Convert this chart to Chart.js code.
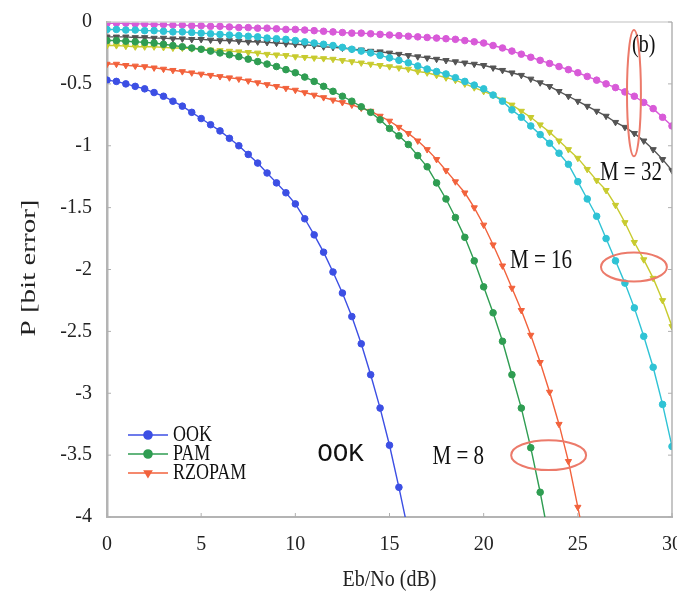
<!DOCTYPE html>
<html><head><meta charset="utf-8">
<script src="https://cdn.jsdelivr.net/npm/chart.js@4.4.1/dist/chart.umd.min.js"></script>
<style>html,body{margin:0;padding:0;background:#fff;}canvas{display:block;}</style>
</head><body>
<canvas id="c" width="677" height="601"></canvas>
<script>
// ---- data (Eb/No in dB, log10 of bit-error probability) ----
const ebNo = [0,0.5,1,1.5,2,2.5,3,3.5,4,4.5,5,5.5,6,6.5,7,7.5,8,8.5,9,9.5,10,10.5,11,11.5,12,12.5,13,13.5,14,14.5,15,15.5,16,16.5,17,17.5,18,18.5,19,19.5,20,20.5,21,21.5,22,22.5,23,23.5,24,24.5,25,25.5,26,26.5,27,27.5,28,28.5,29,29.5,30];
const ookBER = [-0.47,-0.48,-0.50,-0.52,-0.54,-0.57,-0.60,-0.64,-0.68,-0.73,-0.78,-0.83,-0.88,-0.94,-1.00,-1.07,-1.14,-1.22,-1.30,-1.38,-1.47,-1.59,-1.72,-1.86,-2.02,-2.19,-2.38,-2.60,-2.85,-3.12,-3.42,-3.76,-4.12];
const pam8BER = [-0.15,-0.15,-0.155,-0.16,-0.165,-0.17,-0.18,-0.19,-0.20,-0.21,-0.22,-0.235,-0.25,-0.265,-0.28,-0.30,-0.32,-0.34,-0.36,-0.385,-0.41,-0.445,-0.48,-0.52,-0.56,-0.60,-0.64,-0.685,-0.73,-0.79,-0.86,-0.92,-0.99,-1.08,-1.17,-1.30,-1.43,-1.58,-1.74,-1.93,-2.14,-2.35,-2.58,-2.85,-3.12,-3.44,-3.80,-4.2];
const rzopam8BER = [-0.34,-0.34,-0.35,-0.355,-0.36,-0.37,-0.38,-0.39,-0.40,-0.41,-0.42,-0.43,-0.44,-0.45,-0.46,-0.475,-0.49,-0.505,-0.52,-0.535,-0.55,-0.57,-0.59,-0.61,-0.63,-0.65,-0.67,-0.695,-0.72,-0.76,-0.80,-0.85,-0.90,-0.96,-1.03,-1.11,-1.20,-1.29,-1.38,-1.50,-1.64,-1.80,-1.97,-2.15,-2.33,-2.53,-2.75,-2.99,-3.25,-3.55,-3.92,-4.3];
const pam16BER = [-0.06,-0.06,-0.065,-0.065,-0.07,-0.07,-0.075,-0.08,-0.08,-0.085,-0.09,-0.095,-0.10,-0.105,-0.11,-0.115,-0.12,-0.13,-0.135,-0.14,-0.15,-0.16,-0.17,-0.18,-0.19,-0.205,-0.22,-0.235,-0.25,-0.27,-0.29,-0.31,-0.33,-0.355,-0.38,-0.40,-0.42,-0.45,-0.48,-0.51,-0.54,-0.59,-0.64,-0.71,-0.77,-0.84,-0.91,-0.98,-1.06,-1.15,-1.29,-1.43,-1.57,-1.75,-1.93,-2.11,-2.31,-2.54,-2.79,-3.09,-3.43];
const rzopam16BER = [-0.19,-0.19,-0.195,-0.20,-0.20,-0.20,-0.205,-0.21,-0.21,-0.215,-0.22,-0.225,-0.23,-0.235,-0.24,-0.245,-0.25,-0.26,-0.265,-0.27,-0.28,-0.285,-0.29,-0.295,-0.30,-0.31,-0.32,-0.33,-0.34,-0.35,-0.36,-0.37,-0.38,-0.40,-0.41,-0.43,-0.45,-0.47,-0.50,-0.53,-0.56,-0.59,-0.63,-0.67,-0.72,-0.77,-0.83,-0.89,-0.96,-1.03,-1.10,-1.19,-1.28,-1.36,-1.48,-1.62,-1.78,-1.92,-2.07,-2.25,-2.46];
const pam32BER = [-0.01,-0.01,-0.01,-0.015,-0.015,-0.02,-0.02,-0.025,-0.025,-0.03,-0.03,-0.035,-0.035,-0.04,-0.045,-0.045,-0.05,-0.05,-0.055,-0.06,-0.06,-0.065,-0.07,-0.075,-0.08,-0.085,-0.09,-0.09,-0.095,-0.10,-0.105,-0.11,-0.115,-0.12,-0.125,-0.13,-0.135,-0.14,-0.15,-0.16,-0.17,-0.19,-0.21,-0.235,-0.26,-0.285,-0.31,-0.335,-0.36,-0.385,-0.41,-0.44,-0.47,-0.50,-0.53,-0.565,-0.60,-0.65,-0.70,-0.77,-0.84];
const rzopam32BER = [-0.12,-0.12,-0.12,-0.125,-0.125,-0.13,-0.13,-0.135,-0.135,-0.14,-0.14,-0.145,-0.15,-0.15,-0.155,-0.16,-0.16,-0.165,-0.17,-0.175,-0.18,-0.185,-0.19,-0.20,-0.205,-0.21,-0.22,-0.225,-0.235,-0.24,-0.25,-0.26,-0.27,-0.28,-0.29,-0.30,-0.31,-0.32,-0.33,-0.34,-0.35,-0.37,-0.39,-0.41,-0.43,-0.46,-0.49,-0.52,-0.56,-0.60,-0.64,-0.68,-0.72,-0.76,-0.81,-0.85,-0.90,-0.96,-1.03,-1.11,-1.20];
const xTicks = [0,5,10,15,20,25,30];
const yTicks = [0,-0.5,-1,-1.5,-2,-2.5,-3,-3.5,-4];
const legendLabels = ['OOK','PAM','RZOPAM'];

// ---- styles ----
const C = {ook:'#3c4fe4', pam8:'#2f9d52', rz8:'#f2623c', pam16:'#2fc3d5', rz16:'#c8cb2f', pam32:'#d85ad8', rz32:'#545454'};
function ds(label, values, color, tri){
  return {label, data: values.map((v,i)=>({x: ebNo[i], y: v})), borderColor: color, backgroundColor: color,
    borderWidth: 1.4, pointRadius: tri ? 3.6 : 3.3, pointStyle: tri ? 'triangle' : 'circle', pointRotation: tri ? 180 : 0,
    pointBorderWidth: 1, tension: 0, fill: false};
}
const datasets = [
  ds('OOK', ookBER, C.ook, false),
  ds('PAM M=8', pam8BER, C.pam8, false),
  ds('RZOPAM M=8', rzopam8BER, C.rz8, true),
  ds('PAM M=16', pam16BER, C.pam16, false),
  ds('RZOPAM M=16', rzopam16BER, C.rz16, true),
  ds('PAM M=32', pam32BER, C.pam32, false),
  ds('RZOPAM M=32', rzopam32BER, C.rz32, true)
];

// annotation placement (data coordinates)
const ellipses = [
  {x:23.45, y:-3.50, rx:1.99, ry:0.121},
  {x:27.98, y:-1.98, rx:1.75, ry:0.117},
  {x:27.98, y:-0.575, rx:0.37, ry:0.51}
];
const notes = [
  {text:'OOK', x:12.4, y:-3.49, font:'26px "Liberation Mono"', sy:1.0},
  {text:'M = 8', x:18.65, y:-3.52, font:'21px "Liberation Serif"', sy:1.25},
  {text:'M = 16', x:23.05, y:-1.93, font:'21px "Liberation Serif"', sy:1.25},
  {text:'M = 32', x:27.82, y:-1.22, font:'21px "Liberation Serif"', sy:1.25},
  {text:'(b)', x:28.5, y:-0.19, font:'20px "Liberation Serif"', sy:1.25}
];
const legendColors = [C.ook, C.pam8, C.rz8];
const legendTri = [false, false, true];

function sText(ctx, text, px, py, font, sy, align){
  ctx.save(); ctx.translate(px, py); ctx.scale(1, sy);
  ctx.font = font; ctx.textAlign = align || 'center'; ctx.textBaseline = 'middle';
  ctx.fillText(text, 0, 0); ctx.restore();
}

const overlay = {
  id: 'overlay',
  afterDraw(chart){
    const {ctx, chartArea:a, scales:{x, y}} = chart;
    ctx.save();
    // frame top/right
    ctx.strokeStyle = '#d4d4d4'; ctx.lineWidth = 1.5;
    ctx.beginPath(); ctx.moveTo(a.left, a.top); ctx.lineTo(a.right, a.top); ctx.stroke();
    ctx.strokeStyle = '#a0a0a0'; ctx.lineWidth = 1.2;
    ctx.beginPath(); ctx.moveTo(a.right, a.top); ctx.lineTo(a.right, a.bottom); ctx.stroke();
    // small inward ticks
    ctx.strokeStyle = '#b0b0b0'; ctx.lineWidth = 1;
    xTicks.forEach(t => { const px = x.getPixelForValue(t); ctx.beginPath(); ctx.moveTo(px, a.bottom); ctx.lineTo(px, a.bottom - 4); ctx.stroke(); });
    yTicks.forEach(t => { const py = y.getPixelForValue(t); ctx.beginPath(); ctx.moveTo(a.left, py); ctx.lineTo(a.left + 4, py); ctx.moveTo(a.right, py); ctx.lineTo(a.right - 4, py); ctx.stroke(); });
    // ellipses
    ctx.strokeStyle = '#ec7a6a'; ctx.lineWidth = 2;
    ellipses.forEach(e => {
      const cx = x.getPixelForValue(e.x), cy = y.getPixelForValue(e.y);
      const rx = Math.abs(x.getPixelForValue(e.x + e.rx) - cx), ry = Math.abs(y.getPixelForValue(e.y + e.ry) - cy);
      ctx.beginPath(); ctx.ellipse(cx, cy, rx, ry, 0, 0, Math.PI * 2); ctx.stroke();
    });
    // notes
    ctx.fillStyle = '#111';
    notes.forEach(n => sText(ctx, n.text, x.getPixelForValue(n.x), y.getPixelForValue(n.y), n.font, n.sy, 'center'));
    // legend
    const lx = a.left + 21, ly = a.top + 413, rowH = 19;
    legendLabels.forEach((lab, i) => {
      const yy = ly + i * rowH;
      ctx.strokeStyle = legendColors[i]; ctx.fillStyle = legendColors[i]; ctx.lineWidth = 1.6;
      ctx.beginPath(); ctx.moveTo(lx, yy); ctx.lineTo(lx + 40, yy); ctx.stroke();
      Chart.helpers.drawPoint(ctx, {pointStyle: legendTri[i] ? 'triangle' : 'circle', radius: 4, rotation: legendTri[i] ? 180 : 0, borderWidth: 1}, lx + 20, yy);
      ctx.fillStyle = '#111';
      sText(ctx, lab, lx + 45, yy, '18px "Liberation Serif"', 1.3, 'left');
    });
    // axis titles
    ctx.fillStyle = '#222';
    sText(ctx, 'Eb/No (dB)', (a.left + a.right) / 2, 580, '20px "Liberation Serif"', 1.2, 'center');
    ctx.save(); ctx.translate(30, 268); ctx.rotate(-Math.PI / 2); ctx.scale(1.45, 1);
    ctx.font = '20px "Liberation Serif"'; ctx.textAlign = 'center'; ctx.textBaseline = 'middle';
    ctx.fillText('P [bit error]', 0, 0); ctx.restore();
    ctx.restore();
  }
};

new Chart(document.getElementById('c'), {
  type: 'line',
  data: {datasets},
  plugins: [overlay],
  options: {
    responsive: false, devicePixelRatio: 1, animation: false,
    layout: {padding: {top: 22, right: 4, left: 0, bottom: 0}},
    plugins: {legend: {display: false}, tooltip: {enabled: false}},
    scales: {
      x: {type: 'linear', min: 0, max: 30,
        afterBuildTicks: s => { s.ticks = xTicks.map(v => ({value: v})); },
        afterFit: s => { s.height = 84; s.paddingLeft = 0; s.paddingRight = 0; },
        grid: {display: false, drawTicks: false},
        border: {display: true, color: '#b4b4b4', width: 2},
        ticks: {padding: 16, color: '#222', font: {family: 'Liberation Serif', size: 20}, maxRotation: 0,
          callback: v => String(v)}},
      y: {type: 'linear', min: -4, max: 0,
        afterBuildTicks: s => { s.ticks = yTicks.map(v => ({value: v})); },
        afterFit: s => { s.width = 107; s.paddingTop = 0; },
        grid: {display: false, drawTicks: false},
        border: {display: true, color: '#b4b4b4', width: 2.5},
        ticks: {padding: 15, color: '#222', font: {family: 'Liberation Serif', size: 20},
          callback: v => String(v)}}
    }
  }
});
</script>
</body></html>
